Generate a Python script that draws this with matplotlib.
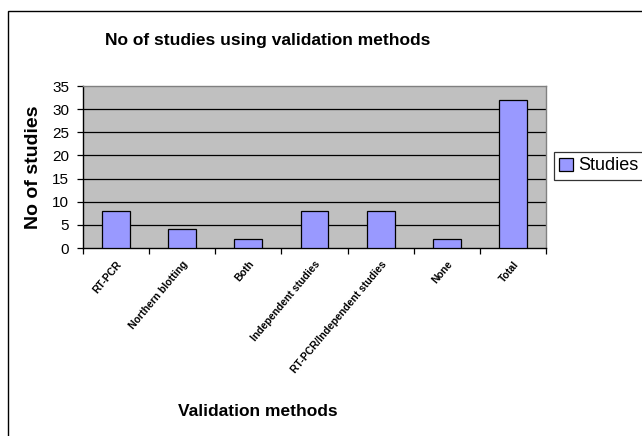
import matplotlib
matplotlib.use("Agg")
import matplotlib.pyplot as plt
from matplotlib.patches import Rectangle

categories = ["RT-PCR", "Northern blotting", "Both", "Independent studies",
              "RT-PCR/Independent studies", "None", "Total"]
studies = [8, 4, 2, 8, 8, 2, 32]
yticks = [0, 5, 10, 15, 20, 25, 30, 35]

plt.rcParams['font.family'] = ['Liberation Sans', 'DejaVu Sans']

W, H = 642, 436
fig = plt.figure(figsize=(W/100, H/100), dpi=100)
fig.patch.set_facecolor("white")

# outer chart frame (cut at right and bottom)
fig.add_artist(Rectangle((8/W, -0.05), 1.0, (H-11)/H + 0.05, transform=fig.transFigure,
                         fill=False, edgecolor="black", linewidth=1.0))

left, right, top, bottom = 83, 546, 86, 248
ax = fig.add_axes([left/W, 1 - bottom/H, (right-left)/W, (bottom-top)/H])
ax.set_facecolor("#C0C0C0")
x = list(range(len(categories)))
bars = ax.bar(x, studies, width=0.42, color="#9999FF", edgecolor="black",
              linewidth=0.9, label="Studies", zorder=3)
ax.set_xlim(-0.5, len(categories) - 0.5)
ax.set_ylim(0, 35)
ax.set_yticks(yticks)
ax.set_yticklabels([str(v) for v in yticks], fontsize=11)
for v in yticks[1:-1]:
    ax.axhline(v, color="black", linewidth=0.9, zorder=1)

ax.set_xticks([i - 0.5 for i in range(len(categories) + 1)], minor=False)
ax.set_xticklabels([])
ax.set_xticks(x, minor=True)
ax.set_xticklabels(categories, minor=True, rotation=50, ha="right",
                   rotation_mode="anchor", fontsize=7.5, fontweight="bold")
ax.tick_params(axis="x", which="minor", length=0, pad=8)
ax.tick_params(axis="x", which="major", length=4, direction="out", width=0.9)
ax.tick_params(axis="y", length=4, direction="out", width=0.9, pad=6)

for s in ["left", "bottom"]:
    ax.spines[s].set_color("black")
    ax.spines[s].set_linewidth(1.0)
for s in ["top", "right"]:
    ax.spines[s].set_color("#808080")
    ax.spines[s].set_linewidth(1.0)

fig.text(268/W, 1 - 40/H, "No of studies using validation methods",
         ha="center", va="center", fontsize=12.5, fontweight="bold")
fig.text(258/W, 1 - 411/H, "Validation methods",
         ha="center", va="center", fontsize=12.5, fontweight="bold")
fig.text(34/W, 1 - 167/H, "No of studies", rotation=90,
         ha="center", va="center", fontsize=14, fontweight="bold")

leg = fig.legend(handles=[bars], labels=["Studies"], loc="upper left",
                 bbox_to_anchor=(554/W, 1 - 152/H), frameon=True, fancybox=False,
                 edgecolor="black", fontsize=13, handlelength=0.75, handleheight=0.75,
                 handletextpad=0.3, borderpad=0.3, borderaxespad=0)
leg.get_frame().set_linewidth(0.9)

fig.savefig("out.png", dpi=100, facecolor="white")
